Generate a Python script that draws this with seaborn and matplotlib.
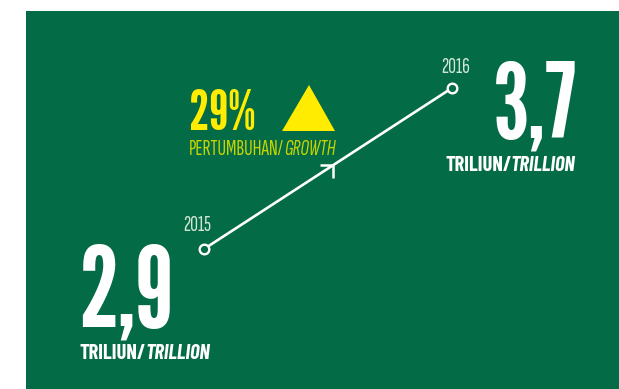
import matplotlib
matplotlib.use("Agg")
import matplotlib.pyplot as plt
from matplotlib.path import Path
from matplotlib.patches import Rectangle, Polygon
from matplotlib import font_manager as fm
import seaborn as sns
import pandas as pd

# ---- data ----
years = [2015, 2016]
values = [2.9, 3.7]
value_labels = ["2,9", "3,7"]
unit_main = "TRILIUN/"
unit_alt = "TRILLION"
growth_pct = "29%"
growth_main = "PERTUMBUHAN/"
growth_alt = "GROWTH"

df = pd.DataFrame({"year": years, "value": values})

available = set(f.name for f in fm.fontManager.ttflist)
def pick(*names):
    for n in names:
        if n in available:
            return n
    return "DejaVu Sans"

BIG = pick("League Gothic", "Bebas Neue", "Oswald", "DejaVu Sans")
LBL = pick("Barlow Condensed", "Fira Sans Extra Condensed", "Roboto Condensed", "DejaVu Sans")
THIN = pick("Sofia Sans Extra Condensed", "League Gothic", "Barlow Condensed", "DejaVu Sans")

GREEN = "#036B45"
WHITE = "#FFFFFF"
YELLOW = "#FFEC00"
YGREEN = "#C6D400"
YEARC = "#D2E6D8"

W, H = 619, 389
sns.set_theme(style="white")
fig = plt.figure(figsize=(W / 100, H / 100), dpi=100, facecolor="white")
ax = fig.add_axes([0, 0, 1, 1])
ax.set_facecolor("none")
ax.set_zorder(2)

# pixel mapping: 2015 -> x=204, 2016 -> x=452 ; 2.9 -> y=249, 3.7 -> y=88
px_per_year = 248.0
px_per_unit = (249 - 88) / 0.8
ax.set_xlim(2015 - 204 / px_per_year, 2015 + (W - 204) / px_per_year)
ax.set_ylim(2.9 - (H - 249) / px_per_unit, 2.9 + 249 / px_per_unit)
ax.axis("off")

def fx(px):
    return px / W
def fy(py):
    return 1 - py / H

# green panel
fig.patches.append(Rectangle((fx(26), 0), 1 - fx(26), fy(11), transform=fig.transFigure,
                             facecolor=GREEN, edgecolor="none", zorder=-2))

# growth line and points
sns.lineplot(data=df, x="year", y="value", ax=ax, color=WHITE, linewidth=1.9, zorder=3)
sns.scatterplot(data=df, x="year", y="value", ax=ax, s=48, color=GREEN, edgecolor=WHITE,
                linewidth=1.7, zorder=4)

# chevron along the line
t = 0.52
xm = years[0] + t * (years[1] - years[0])
ym = values[0] + t * (values[1] - values[0])
chev = Path([(-1, 0), (0, 0), (0, -1)], [Path.MOVETO, Path.LINETO, Path.LINETO])
ax.plot([xm], [ym], marker=chev, markersize=19, markerfacecolor="none",
        markeredgecolor=WHITE, markeredgewidth=1.8, linestyle="none", zorder=5)

# year labels
fig.text(fx(183), fy(231), str(years[0]), family=THIN, fontsize=15.5, color=YEARC, va="baseline", zorder=3)
fig.text(fx(441), fy(73), str(years[1]), family=THIN, fontsize=15.5, color=YEARC, va="baseline", zorder=3)

# big values
fig.text(fx(78), fy(326), value_labels[0], family=BIG, fontsize=80, color=WHITE, va="baseline", zorder=3)
fig.text(fx(493), fy(137), value_labels[1], family=BIG, fontsize=75, color=WHITE, va="baseline", zorder=3)

def unit(px, py, main, alt, family, size, color, weight, gap=0):
    t1 = fig.text(fx(px), fy(py), main, family=family, fontsize=size, color=color,
                  weight=weight, va="baseline", zorder=3)
    ax.annotate(alt, xy=(1, 0), xycoords=t1, xytext=(gap, 0), textcoords="offset points",
                family=family, fontsize=size, color=color, weight=weight, style="italic",
                va="bottom", ha="left", annotation_clip=False)

unit(80, 359, unit_main, unit_alt, LBL, 14.8, WHITE, "bold", gap=-0.5)
unit(445, 171, unit_main, unit_alt, LBL, 14.8, WHITE, "bold", gap=-0.5)

# growth block
fig.text(fx(189), fy(130), growth_pct, family=BIG, fontsize=40, color=YELLOW, va="baseline", zorder=3)
unit(189, 155, growth_main, growth_alt, THIN, 15.5, YGREEN, "normal", gap=0.5)
fig.patches.append(Polygon([(fx(282), fy(131)), (fx(335), fy(131)), (fx(309), fy(85))],
                           closed=True, transform=fig.transFigure, facecolor=YELLOW,
                           edgecolor="none", zorder=-1))

fig.savefig("out.png", dpi=100, facecolor="white")
